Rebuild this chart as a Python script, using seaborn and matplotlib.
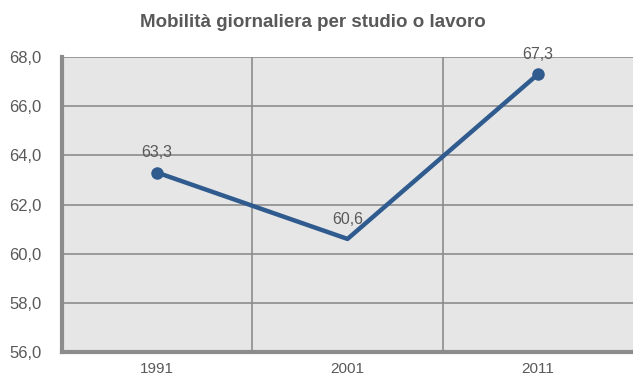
import matplotlib
matplotlib.use("Agg")
import matplotlib.pyplot as plt
import seaborn as sns
import pandas as pd

# data
anni = ["1991", "2001", "2011"]
valori = [63.3, 60.6, 67.3]
etichette = ["63,3", "60,6", "67,3"]
yticks = [56.0, 58.0, 60.0, 62.0, 64.0, 66.0, 68.0]

df = pd.DataFrame({"pos": range(len(anni)), "valore": valori})

sns.set_style("white")
plt.rcParams["font.family"] = ["Liberation Sans", "DejaVu Sans"]

fig = plt.figure(figsize=(6.33, 3.76), dpi=100)
ax = fig.add_axes([0.098, 0.064, 0.902, 0.784])
ax.set_facecolor("#e6e6e6")

sns.lineplot(data=df, x="pos", y="valore", ax=ax, color="#2f5b8f", lw=3.2,
             marker="o", markersize=9, markevery=[0, 2], markeredgewidth=0,
             zorder=3)

# labels above the points
for i, (v, t) in enumerate(zip(valori, etichette)):
    ax.text(i, v + 0.5, t, ha="center", va="bottom", fontsize=11.5, color="#595959")

ax.set_xlim(-0.5, 2.5)
ax.set_ylim(56, 68)
ax.set_yticks(yticks)
ax.set_yticklabels([f"{y:.1f}".replace(".", ",") for y in yticks])
ax.set_xticks([0.5, 1.5], minor=False)
ax.set_xticklabels([])
ax.set_xticks(range(len(anni)), minor=True)
ax.set_xticklabels(anni, minor=True)
ax.tick_params(axis="x", which="minor", length=0, labelsize=11, labelcolor="#595959", pad=7)
ax.tick_params(axis="x", which="major", length=3, width=2, color="#8c8c8c")
ax.tick_params(axis="y", length=3, width=2, color="#8c8c8c", labelsize=12,
               labelcolor="#595959", pad=12)

ax.grid(True, axis="y", color="#8c8c8c", lw=1.2)
ax.grid(True, axis="x", which="major", color="#8c8c8c", lw=1.2)
ax.set_axisbelow(True)

for s in ["top", "right"]:
    ax.spines[s].set_visible(False)
for s in ["left", "bottom"]:
    ax.spines[s].set_color("#8c8c8c")
    ax.spines[s].set_linewidth(3)

ax.set_xlabel("")
ax.set_ylabel("")
fig.text(0.495, 0.94, "Mobilità giornaliera per studio o lavoro", ha="center",
         va="center", fontsize=13.5, fontweight="bold", color="#595959")

fig.savefig("out.png", dpi=100, facecolor="white")
